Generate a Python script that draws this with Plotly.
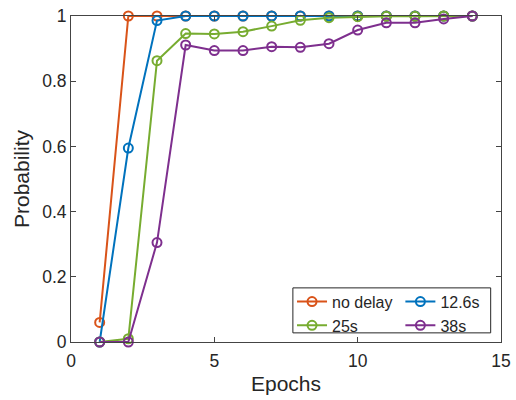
import plotly.graph_objects as go

epochs = list(range(1, 15))
no_delay = [0.06, 1, 1, 1, 1, 1, 1, 1, 1, 1, 1, 1, 1, 1]
d12_6 = [0, 0.595, 0.986, 1, 1, 1, 1, 1, 1, 1, 1, 1, 1, 1]
d25 = [0, 0.01, 0.863, 0.946, 0.945, 0.952, 0.969, 0.987, 0.995, 0.998, 0.999, 0.999, 1, 1]
d38 = [0, 0, 0.305, 0.911, 0.894, 0.894, 0.906, 0.904, 0.915, 0.957, 0.979, 0.979, 0.991, 1]

names = ["no delay", "12.6s", "25s", "38s"]
series = [no_delay, d12_6, d25, d38]
colors = ["#D95319", "#0072BD", "#77AC30", "#7E2F8E"]
legend_ids = ["legend", "legend2", "legend", "legend2"]

fig = go.Figure()
for n, s, c, lg in zip(names, series, colors, legend_ids):
    fig.add_trace(go.Scatter(
        x=epochs, y=s, name=n, mode="lines+markers",
        line=dict(color=c, width=2),
        marker=dict(symbol="circle-open", size=9, line=dict(color=c, width=2)),
        cliponaxis=False, legend=lg,
    ))

font = "Liberation Sans, Arial, sans-serif"
axis_common = dict(
    showgrid=False, zeroline=False, showline=True, linecolor="#444444", linewidth=1,
    mirror="ticks", ticks="inside", ticklen=5, tickcolor="#444444",
    tickfont=dict(family=font, size=17.5, color="#262626"),
)
leg_common = dict(
    orientation="v", y=0.176, yanchor="top",
    bgcolor="rgba(0,0,0,0)", borderwidth=0,
    font=dict(family=font, size=16, color="#262626"),
    tracegroupgap=0, itemwidth=30,
)
fig.update_layout(
    width=516, height=400,
    margin=dict(l=71, r=15, t=16, b=58, autoexpand=False),
    paper_bgcolor="white", plot_bgcolor="white",
    font=dict(family=font, color="#262626"),
    xaxis=dict(range=[0, 15], tickvals=[0, 5, 10, 15], ticklabelstandoff=3,
               title=dict(text="Epochs", font=dict(family=font, size=21, color="#262626"), standoff=6),
               **axis_common),
    yaxis=dict(range=[0, 1], tickvals=[0, 0.2, 0.4, 0.6, 0.8, 1], ticktext=["0", "0.2", "0.4", "0.6", "0.8", "1"],
               title=dict(text="Probability", font=dict(family=font, size=21, color="#262626"), standoff=6),
               **axis_common),
    legend=dict(x=0.514, xanchor="left", **leg_common),
    legend2=dict(x=0.766, xanchor="left", **leg_common),
    shapes=[dict(type="rect", xref="paper", yref="paper", x0=0.516, x1=0.976, y0=0.028, y1=0.166,
                 line=dict(color="#262626", width=1), fillcolor="white", layer="above")],
    showlegend=True,
)
fig.write_html("out.html")
